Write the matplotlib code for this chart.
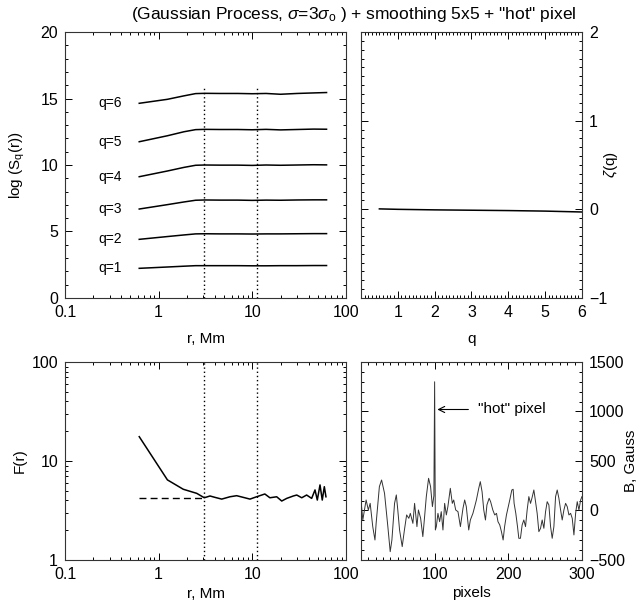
import numpy as np
import matplotlib
matplotlib.use('Agg')
from matplotlib import pyplot as plt
from matplotlib.ticker import MultipleLocator, LogLocator, FixedLocator, FixedFormatter, NullFormatter

plt.rcParams['font.family'] = ['Liberation Sans', 'DejaVu Sans']
plt.rcParams['mathtext.fontset'] = 'custom'
plt.rcParams['mathtext.rm'] = 'Liberation Sans'
plt.rcParams['mathtext.it'] = 'Liberation Sans:italic'
plt.rcParams['font.size'] = 11

# --- structure functions log S_q(r) (top left) ---
r_s = [0.62, 1.24, 1.86, 2.48, 3.1, 4.5, 7, 10, 14, 20, 30, 45, 62]
sq_1 = [2.23, 2.33, 2.39, 2.43, 2.43, 2.43, 2.43, 2.42, 2.42, 2.43, 2.43, 2.44, 2.44]
sq_2 = [4.41, 4.62, 4.74, 4.82, 4.83, 4.82, 4.82, 4.81, 4.82, 4.82, 4.83, 4.84, 4.84]
sq_3 = [6.69, 7.02, 7.22, 7.35, 7.37, 7.36, 7.36, 7.34, 7.36, 7.35, 7.37, 7.38, 7.38]
sq_4 = [9.12, 9.55, 9.82, 9.98, 10.0, 9.99, 9.99, 9.97, 10.0, 9.98, 10.0, 10.02, 10.01]
sq_5 = [11.75, 12.2, 12.5, 12.66, 12.68, 12.67, 12.67, 12.65, 12.68, 12.64, 12.67, 12.7, 12.69]
sq_6 = [14.64, 14.94, 15.2, 15.37, 15.39, 15.38, 15.38, 15.36, 15.38, 15.32, 15.38, 15.42, 15.45]
q_labels = ['q=1', 'q=2', 'q=3', 'q=4', 'q=5', 'q=6']
r_marks = [3.07, 11.2]

# --- scaling exponents zeta(q) (top right) ---
q_vals = [0.5, 1.0, 1.5, 2.0, 2.5, 3.0, 3.5, 4.0, 4.5, 5.0, 5.5, 6.0]
zeta = [0.005, 0.0, -0.003, -0.006, -0.008, -0.01, -0.012, -0.014, -0.017, -0.02, -0.025, -0.03]

# --- flatness F(r) (bottom left) ---
r_f = [0.62, 1.24, 1.83, 2.55, 3.07, 3.53, 3.99, 4.71, 5.77, 6.8, 8.0, 9.44, 11.1, 13.6, 15.4,
       18.2, 20.6, 23.3, 27.4, 29.8, 33.7, 38, 43, 46.7, 49.4, 52.8, 55.8, 58.7, 61.1]
flat = [17.6, 6.44, 5.18, 4.71, 4.25, 4.43, 4.29, 4.12, 4.35, 4.46, 4.29, 4.12, 4.35, 4.64, 4.25,
        4.35, 3.94, 4.19, 4.43, 4.53, 4.25, 4.53, 4.19, 5.1, 4.03, 5.73, 4.03, 5.5, 4.35]
gauss_level = 4.25

# --- magnetogram cut (bottom right) ---
pix = [0, 2.5, 7, 10, 12.5, 16, 19, 20.6, 25, 28, 32, 36.5, 39.7, 42, 45.6, 48, 50, 52.4, 56, 59,
       62, 65, 67, 70.5, 72.8, 76, 78, 81, 84, 86.4, 88.7, 91.8, 94.5, 97, 99, 100, 101,
       102.3, 104.5, 106.8, 109, 111.3, 113.6, 115.9, 118, 121.3, 124, 125.9, 128.6, 131.7, 135,
       138.5, 140.8, 143, 146.3, 148.5, 152, 154.4, 156.7, 159.9, 162, 164.4, 166.7, 169, 171,
       174, 176, 179, 181.6, 184, 186, 188.4, 190.7, 193, 195, 197.5, 202, 204.8, 206.6, 207.9,
       210.2, 212.5, 214.3, 216.5, 218.8, 221.1, 223.4, 225.6, 227.9, 230.2, 232.4, 234.7, 237,
       239.2, 241.5, 243.8, 246, 248.3, 250.6, 252.8, 255.1, 257.4, 259.6, 261.9, 264.2, 266.4,
       268.7, 271, 273.2, 275.5, 277.8, 280, 282.3, 284.6, 286.8, 289.1, 291.4, 293.6, 295.9,
       298.2, 300]
bfield = [106, -96, 106, 5, 72, -163, -298, -130, 241, 308, 173, -163, -416, -298, 72, 157, 5, -197,
          -365, -197, -45, -79, -29, -130, 72, -163, 5, -79, -264, -62, 140, 325, 241, 39, 150, 1300,
          -197, -163, -29, -113, -12, -197, 72, -45, 39, 224, 72, 106, 5, -12, -163,
          22, 106, 39, -197, -96, -29, 39, 106, 224, 291, 190, 5, -96, 56,
          123, 89, 5, -45, -29, -113, -146, -214, -298, -163, -45, 106, 207, 214, 72,
          -29, -163, -281, -281, -146, -96, -163, 5, 140, 72, 133, 207, 89,
          -29, -214, -180, -96, -180, -12, 89, 56, -163, -281, -163, 140, 207,
          123, 5, -96, 5, 72, 39, -45, -29, -79, -247, -29, 89, 5,
          106, 140]

fig = plt.figure(figsize=(6.4, 6.1), dpi=100)
ax1 = fig.add_axes([0.1016, 0.5115, 0.439, 0.436])
ax2 = fig.add_axes([0.564, 0.5115, 0.3453, 0.436])
ax3 = fig.add_axes([0.1016, 0.082, 0.439, 0.3246])
ax4 = fig.add_axes([0.564, 0.082, 0.3453, 0.3246])

for ax in (ax1, ax2, ax3, ax4):
    ax.tick_params(which='both', direction='in', top=True, right=True, labelsize=11.5, pad=5)
    ax.tick_params(which='major', length=5, width=0.7)
    ax.tick_params(which='minor', length=2.5, width=0.7)
    for s in ax.spines.values():
        s.set_linewidth(0.8)
        s.set_color('#333333')

log_fmt = FixedFormatter(['0.1', '1', '10', '100'])

# top left
for vals, lab in zip([sq_1, sq_2, sq_3, sq_4, sq_5, sq_6], q_labels):
    ax1.plot(r_s, vals, color='black', lw=1.1)
    ax1.text(0.3, vals[0], lab, ha='center', va='center', fontsize=10)
for rm in r_marks:
    ax1.plot([rm, rm], [0, 15.9], color='black', lw=1.0, linestyle=(0, (1, 2)))
ax1.set_xscale('log')
ax1.set_xlim(0.1, 100)
ax1.set_ylim(0, 20)
ax1.xaxis.set_major_locator(FixedLocator([0.1, 1, 10, 100]))
ax1.xaxis.set_major_formatter(log_fmt)
ax1.xaxis.set_minor_locator(LogLocator(base=10, subs=np.arange(2, 10)))
ax1.xaxis.set_minor_formatter(NullFormatter())
ax1.yaxis.set_major_locator(MultipleLocator(5))
ax1.yaxis.set_minor_locator(MultipleLocator(1))
ax1.set_xlabel('r, Mm')
ax1.xaxis.set_label_coords(0.5, -0.128)
ax1.set_ylabel(r'log (S$_{\rm q}$(r))')
ax1.yaxis.set_label_coords(-0.135, 0.5)

# top right
ax2.plot(q_vals, zeta, color='black', lw=1.1)
ax2.set_xlim(0, 6)
ax2.set_ylim(-1, 2)
ax2.xaxis.set_major_locator(FixedLocator([1, 2, 3, 4, 5, 6]))
ax2.xaxis.set_minor_locator(MultipleLocator(0.1))
ax2.yaxis.set_major_locator(MultipleLocator(1))
ax2.yaxis.set_minor_locator(MultipleLocator(0.1))
ax2.tick_params(axis='y', which='both', labelleft=False, labelright=True)
ax2.set_xlabel('q')
ax2.xaxis.set_label_coords(0.5, -0.128)
ax2.yaxis.set_label_position('right')
ax2.set_ylabel(r'$\zeta$(q)')
ax2.yaxis.set_label_coords(1.09, 0.5)

# bottom left
ax3.plot(r_f, flat, color='black', lw=1.1)
ax3.plot([r_f[0], r_marks[0]], [gauss_level, gauss_level], color='black', lw=1.0, linestyle=(0, (5, 3)))
for rm in r_marks:
    ax3.axvline(rm, color='black', lw=1.0, linestyle=(0, (1, 2)))
ax3.set_xscale('log')
ax3.set_yscale('log')
ax3.set_xlim(0.1, 100)
ax3.set_ylim(1, 100)
ax3.xaxis.set_major_locator(FixedLocator([0.1, 1, 10, 100]))
ax3.xaxis.set_major_formatter(log_fmt)
ax3.xaxis.set_minor_locator(LogLocator(base=10, subs=np.arange(2, 10)))
ax3.xaxis.set_minor_formatter(NullFormatter())
ax3.yaxis.set_major_locator(FixedLocator([1, 10, 100]))
ax3.yaxis.set_major_formatter(FixedFormatter(['1', '10', '100']))
ax3.yaxis.set_minor_locator(LogLocator(base=10, subs=np.arange(2, 10)))
ax3.yaxis.set_minor_formatter(NullFormatter())
ax3.set_xlabel('r, Mm')
ax3.xaxis.set_label_coords(0.5, -0.136)
ax3.set_ylabel('F(r)')
ax3.yaxis.set_label_coords(-0.135, 0.5)

# bottom right
ax4.plot(pix, bfield, color='#333333', lw=0.7)
ax4.annotate('"hot" pixel', xy=(103.7, 1020), xytext=(159, 1020), va='center', fontsize=11,
             arrowprops=dict(arrowstyle='->', color='black', lw=0.8, shrinkA=5, shrinkB=0))
ax4.set_xlim(0, 300)
ax4.set_ylim(-500, 1500)
ax4.xaxis.set_major_locator(FixedLocator([100, 200, 300]))
ax4.xaxis.set_minor_locator(MultipleLocator(10))
ax4.yaxis.set_major_locator(MultipleLocator(500))
ax4.yaxis.set_minor_locator(MultipleLocator(100))
ax4.tick_params(axis='y', which='both', labelleft=False, labelright=True)
ax4.set_xlabel('pixels')
ax4.xaxis.set_label_coords(0.5, -0.13)
ax4.yaxis.set_label_position('right')
ax4.set_ylabel('B, Gauss', fontsize=11)
ax4.yaxis.set_label_coords(1.19, 0.5)

fig.text(354 / 640, 1 - 14 / 610,
         r'(Gaussian Process, $\sigma$=3$\sigma_{\rm o}$ ) + smoothing 5x5 + "hot" pixel',
         ha='center', va='center', fontsize=12.5)

fig.savefig('out.png', dpi=100)
